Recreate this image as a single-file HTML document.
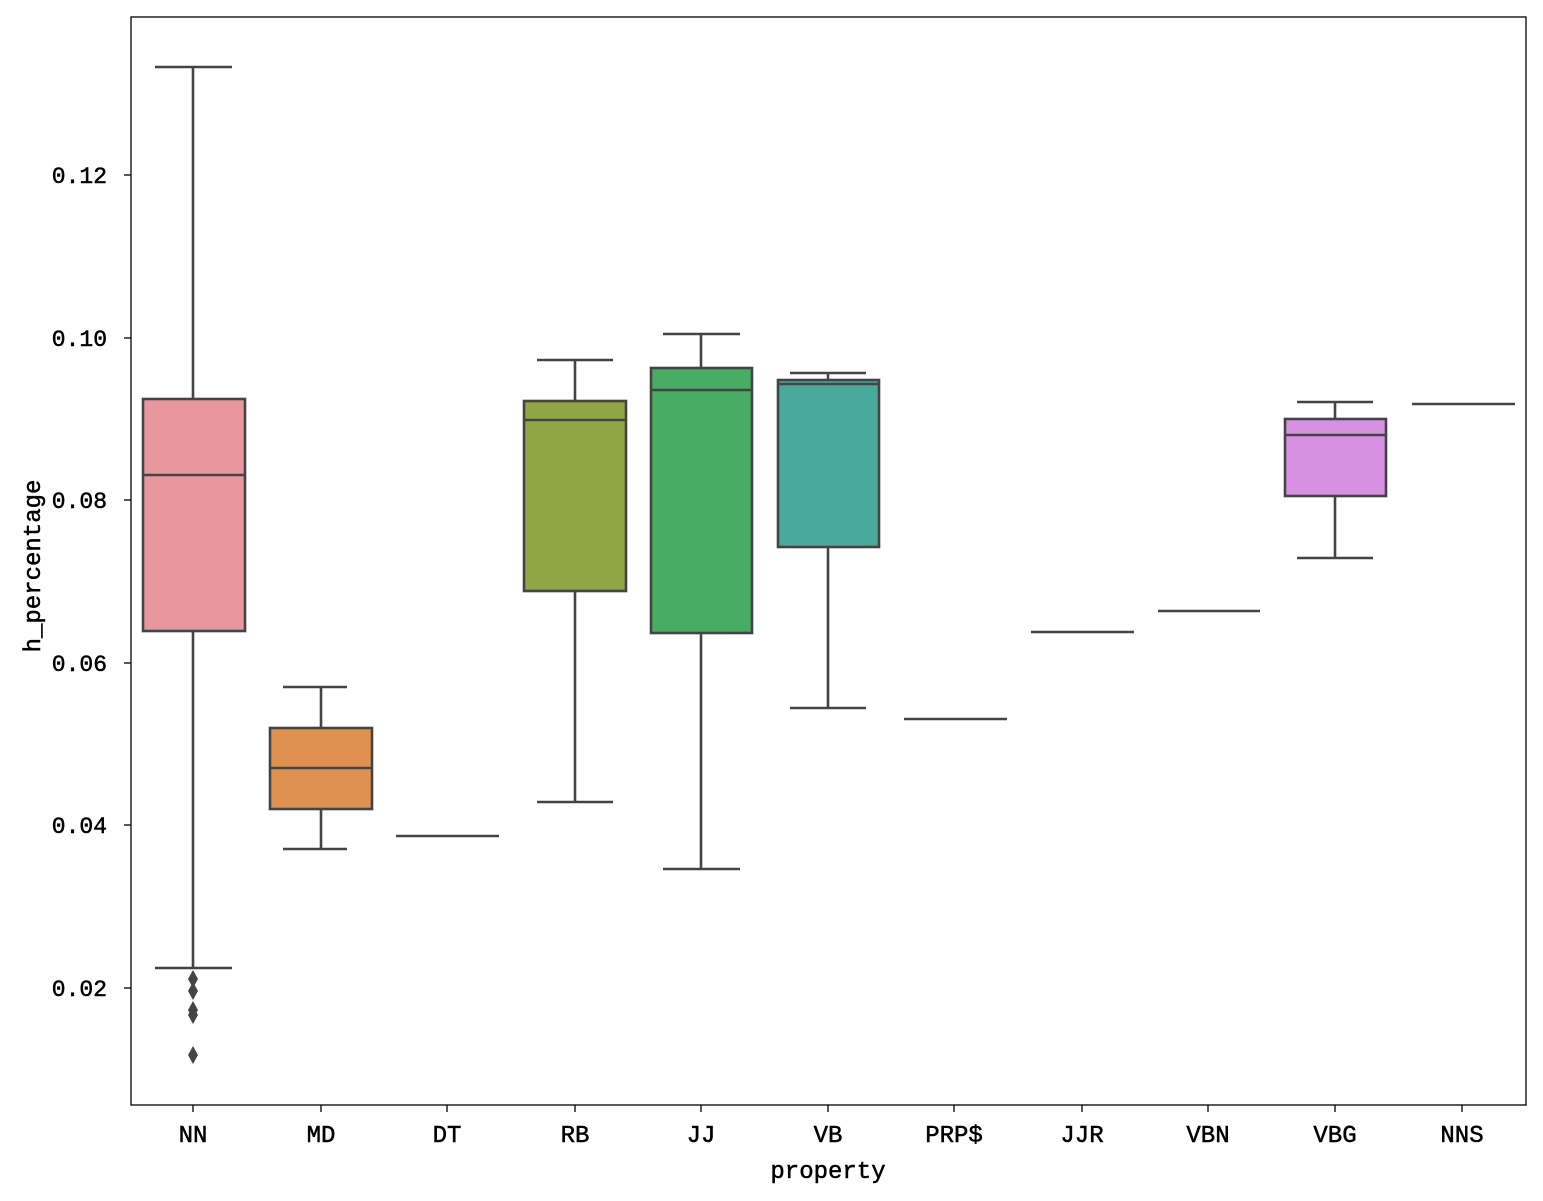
<!DOCTYPE html>
<html><head><meta charset="utf-8"><style>body{margin:0;background:#fff}svg{display:block}text{font-family:"Liberation Mono","DejaVu Sans Mono",monospace;fill:#000;stroke:#000;stroke-width:0.5}</style></head><body>
<svg width="1543" height="1201" viewBox="0 0 1543 1201">
<rect x="0" y="0" width="1543" height="1201" fill="#fff"/>
<g stroke="#444" stroke-width="2.6" fill="none">
<line x1="193" y1="67" x2="193" y2="399"/><line x1="193" y1="631" x2="193" y2="968"/>
<line x1="155" y1="67" x2="232" y2="67"/><line x1="155" y1="968" x2="232" y2="968"/>
<rect x="143" y="399" width="102" height="232" fill="#e9979f"/>
<line x1="143" y1="475" x2="245" y2="475"/>
<line x1="321" y1="687" x2="321" y2="728"/><line x1="321" y1="809" x2="321" y2="849"/>
<line x1="283" y1="687" x2="347" y2="687"/><line x1="283" y1="849" x2="347" y2="849"/>
<rect x="270" y="728" width="102" height="81" fill="#de9150"/>
<line x1="270" y1="768" x2="372" y2="768"/>
<line x1="396" y1="836" x2="499" y2="836"/>
<line x1="575" y1="360" x2="575" y2="401"/><line x1="575" y1="591" x2="575" y2="802"/>
<line x1="537" y1="360" x2="613" y2="360"/><line x1="537" y1="802" x2="613" y2="802"/>
<rect x="524" y="401" width="102" height="190" fill="#8ea644"/>
<line x1="524" y1="420" x2="626" y2="420"/>
<line x1="701" y1="334" x2="701" y2="368"/><line x1="701" y1="633" x2="701" y2="869"/>
<line x1="663" y1="334" x2="740" y2="334"/><line x1="663" y1="869" x2="740" y2="869"/>
<rect x="651" y="368" width="101" height="265" fill="#48ad62"/>
<line x1="651" y1="390" x2="752" y2="390"/>
<line x1="828" y1="373" x2="828" y2="380"/><line x1="828" y1="547" x2="828" y2="708"/>
<line x1="790" y1="373" x2="866" y2="373"/><line x1="790" y1="708" x2="866" y2="708"/>
<rect x="778" y="380" width="101" height="167" fill="#49aa9b"/>
<line x1="778" y1="384" x2="879" y2="384"/>
<line x1="904" y1="719" x2="1007" y2="719"/>
<line x1="1031" y1="632" x2="1134" y2="632"/>
<line x1="1158" y1="611" x2="1260" y2="611"/>
<line x1="1335" y1="402" x2="1335" y2="419"/><line x1="1335" y1="496" x2="1335" y2="558"/>
<line x1="1297" y1="402" x2="1373" y2="402"/><line x1="1297" y1="558" x2="1373" y2="558"/>
<rect x="1285" y="419" width="101" height="77" fill="#d692e1"/>
<line x1="1285" y1="435" x2="1386" y2="435"/>
<line x1="1412" y1="404" x2="1515" y2="404"/>
</g>
<g fill="#444">
<path d="M193 970l5 9-5 9-5-9z"/><path d="M193 982l5 9-5 9-5-9z"/><path d="M193 1001l5 9-5 9-5-9z"/><path d="M193 1006l5 9-5 9-5-9z"/><path d="M193 1046l5 9-5 9-5-9z"/>
</g>
<rect x="131" y="17" width="1395" height="1088" fill="none" stroke="#000" stroke-width="1.3"/>
<g stroke="#000" stroke-width="1.3">
<line x1="124" y1="175" x2="131" y2="175"/><line x1="124" y1="338" x2="131" y2="338"/><line x1="124" y1="500" x2="131" y2="500"/><line x1="124" y1="663" x2="131" y2="663"/><line x1="124" y1="825" x2="131" y2="825"/><line x1="124" y1="988" x2="131" y2="988"/>
<line x1="193" y1="1105" x2="193" y2="1112"/><line x1="321" y1="1105" x2="321" y2="1112"/><line x1="447" y1="1105" x2="447" y2="1112"/><line x1="575" y1="1105" x2="575" y2="1112"/><line x1="701" y1="1105" x2="701" y2="1112"/><line x1="828" y1="1105" x2="828" y2="1112"/><line x1="954" y1="1105" x2="954" y2="1112"/><line x1="1082" y1="1105" x2="1082" y2="1112"/><line x1="1208" y1="1105" x2="1208" y2="1112"/><line x1="1335" y1="1105" x2="1335" y2="1112"/><line x1="1462" y1="1105" x2="1462" y2="1112"/>
</g>
<g font-size="23" text-anchor="end">
<text x="107" y="183">0.12</text><text x="107" y="346">0.10</text><text x="107" y="508">0.08</text><text x="107" y="671">0.06</text><text x="107" y="833">0.04</text><text x="107" y="996">0.02</text>
</g>
<g font-size="24" text-anchor="middle">
<text x="193" y="1142">NN</text><text x="321" y="1142">MD</text><text x="447" y="1142">DT</text><text x="575" y="1142">RB</text><text x="701" y="1142">JJ</text><text x="828" y="1142">VB</text><text x="954" y="1142">PRP$</text><text x="1082" y="1142">JJR</text><text x="1208" y="1142">VBN</text><text x="1335" y="1142">VBG</text><text x="1462" y="1142">NNS</text>
<text x="828" y="1178">property</text>
<text x="0" y="0" transform="translate(40,566) rotate(-90)">h_percentage</text>
</g>
</svg>
</body></html>
